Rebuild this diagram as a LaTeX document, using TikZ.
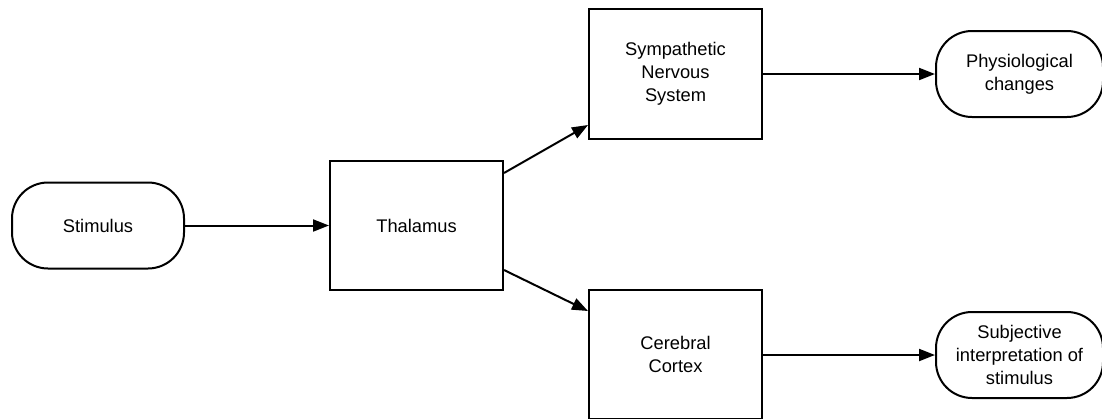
\documentclass[tikz,border=0pt]{standalone}
\usepackage{fontspec}
\setmainfont{Liberation Sans}
\usetikzlibrary{arrows.meta}
\begin{document}
\begin{tikzpicture}[x=1pt,y=-1pt,
  every node/.style={font=\fontsize{18.3}{23}\selectfont, align=center, inner sep=0pt},
  box/.style={draw, line width=2pt, minimum width=173pt, minimum height=129pt},
  pill/.style={draw, line width=2pt, rounded corners=36pt, minimum height=86pt},
  link/.style={line width=2pt, -{Triangle[length=16pt,width=12pt]}}]
\useasboundingbox (0,0) rectangle (1102,418);
\node[pill, minimum width=172pt] (stim) at (98,225.5) {Stimulus};
\node[box] (thal) at (416.5,225.5) {Thalamus};
\node[box, minimum height=130pt] (sym) at (675.5,74) {Sympathetic\\Nervous\\System};
\node[box] (cer) at (675.5,354.5) {Cerebral\\Cortex};
\node[pill, minimum width=167pt] (phys) at (1019.5,74) {Physiological\\changes};
\node[pill, minimum width=167pt] (subj) at (1019.5,355) {Subjective\\interpretation of\\stimulus};
\draw[link] (stim) -- (thal);
\draw[link] ([yshift=-13pt]thal.north east) -- ([yshift=15pt]sym.south west);
\draw[link] ([yshift=21pt]thal.south east) -- ([yshift=-22pt]cer.north west);
\draw[link] (sym) -- (phys);
\draw[link] (cer.east |- subj.west) -- (subj);
\end{tikzpicture}
\end{document}
